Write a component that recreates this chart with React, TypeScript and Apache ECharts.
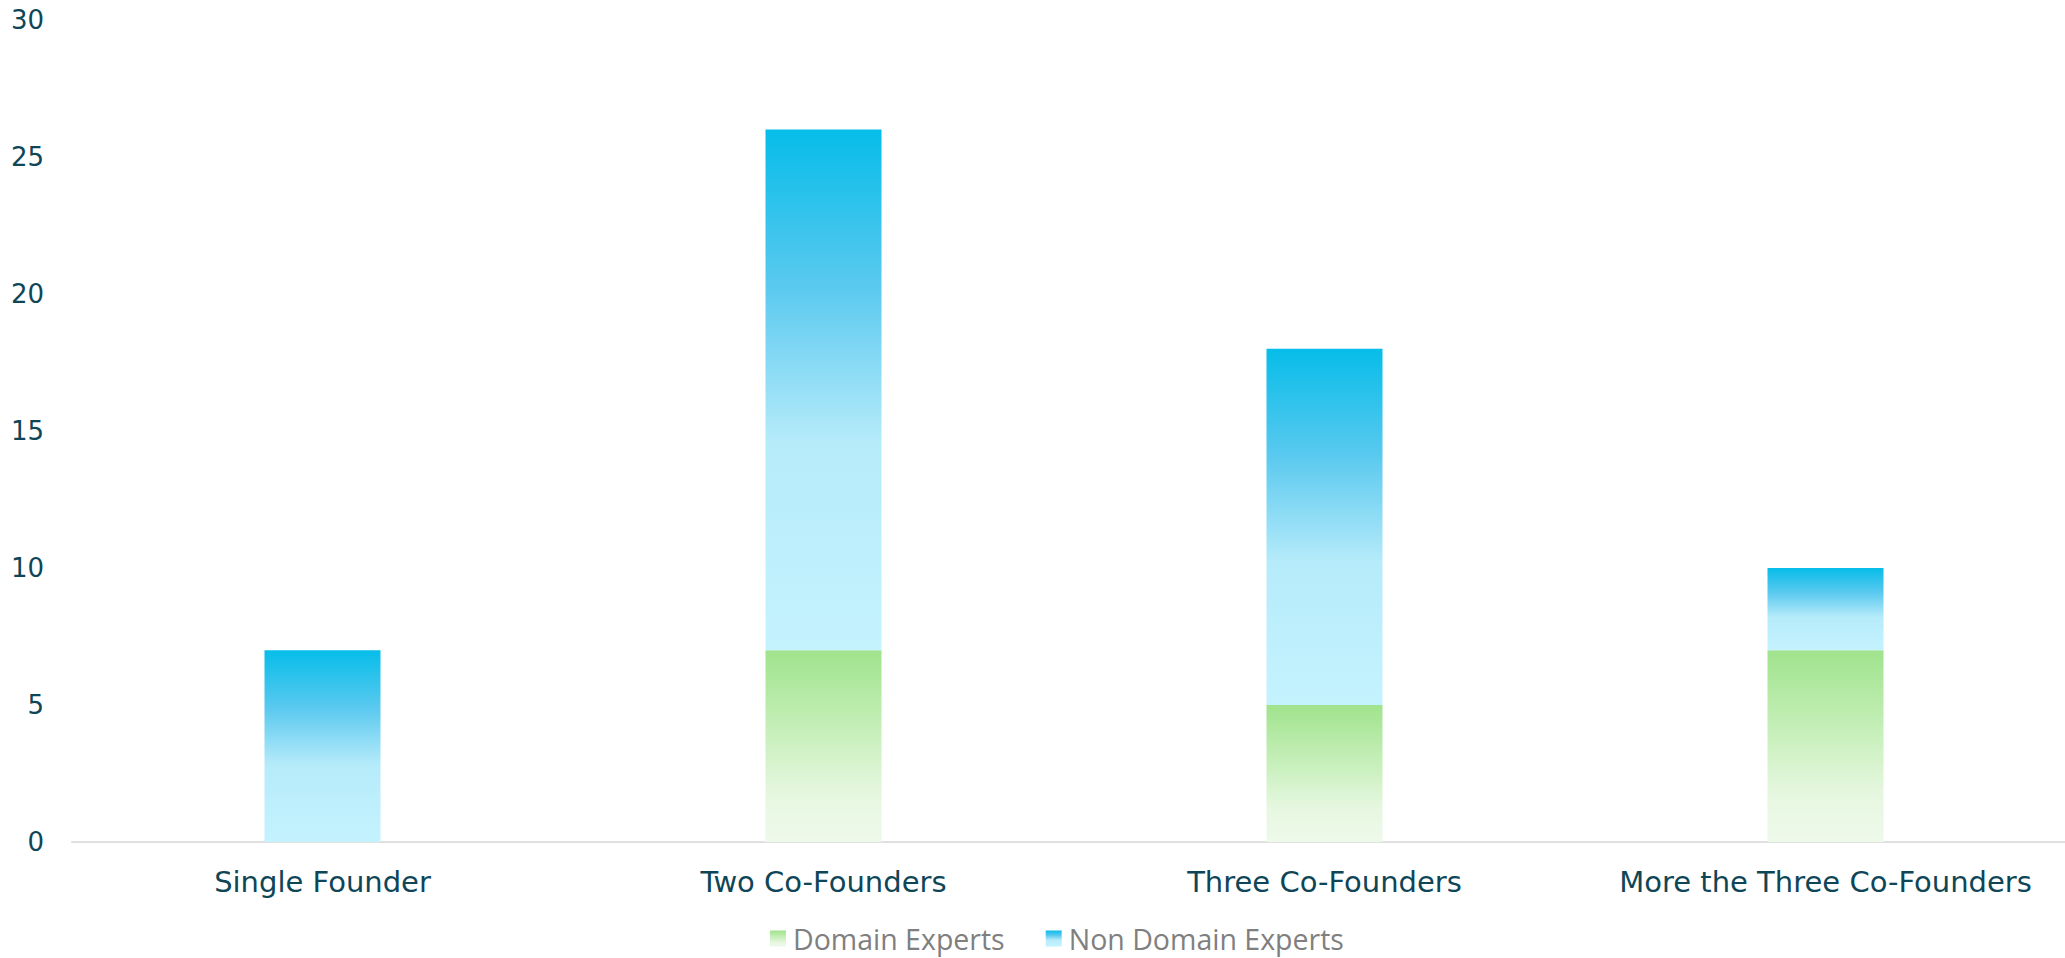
import React, { useEffect, useRef } from "react";
import * as echarts from "echarts";

const categories = ["Single Founder", "Two Co-Founders", "Three Co-Founders", "More the Three Co-Founders"];
const domainExperts = [0, 7, 5, 7];
const nonDomainExperts = [7, 19, 13, 3];
const seriesNames = ["Domain Experts", "Non Domain Experts"];

const textColor = "#0e4657";

export default function App() {
  const ref = useRef<HTMLDivElement>(null);
  useEffect(() => {
    document.body.style.margin = "0";
    document.body.style.overflow = "hidden";
    const chart = echarts.init(ref.current!, null, { renderer: "svg" });
    const greenGrad = new echarts.graphic.LinearGradient(0, 0, 0, 1, [
      { offset: 0, color: "#a0e38d" },
      { offset: 0.45, color: "#c9f0bd" },
      { offset: 0.75, color: "#e6f7e0" },
      { offset: 1, color: "#eef9ea" },
    ]);
    const blueGrad = new echarts.graphic.LinearGradient(0, 0, 0, 1, [
      { offset: 0, color: "#06bde9" },
      { offset: 0.3, color: "#5ac9ef" },
      { offset: 0.6, color: "#b6ebfa" },
      { offset: 1, color: "#c4f3fe" },
    ]);
    chart.setOption({
      animation: false,
      grid: { left: 72, right: 0, top: 20, bottom: 116, containLabel: false },
      legend: {
        bottom: 0,
        left: 765,
        itemWidth: 16,
        itemHeight: 16,
        itemGap: 41,
        icon: "rect",
        textStyle: { color: "#7f7f7f", fontSize: 28.5, fontFamily: "Open Sans", padding: [0, 0, 0, 2] },
        data: seriesNames,
      },
      xAxis: {
        type: "category",
        data: categories,
        axisLine: { lineStyle: { color: "#e0e0e0", width: 2 } },
        axisTick: { show: false },
        axisLabel: { color: textColor, fontSize: 29, fontFamily: "DejaVu Sans", margin: 25, interval: 0 },
      },
      yAxis: {
        type: "value",
        min: 0,
        max: 30,
        interval: 5,
        splitLine: { show: false },
        axisLine: { show: false },
        axisTick: { show: false },
        axisLabel: { color: textColor, fontSize: 26, fontFamily: "DejaVu Sans", margin: 28 },
      },
      series: [
        {
          name: seriesNames[0],
          type: "bar",
          stack: "total",
          barWidth: 116,
          data: domainExperts,
          itemStyle: { color: greenGrad },
        },
        {
          name: seriesNames[1],
          type: "bar",
          stack: "total",
          barWidth: 116,
          data: nonDomainExperts,
          itemStyle: { color: blueGrad },
        },
      ],
    });
    return () => chart.dispose();
  }, []);
  return <div ref={ref} style={{ width: 2076, height: 958 }} />;
}
